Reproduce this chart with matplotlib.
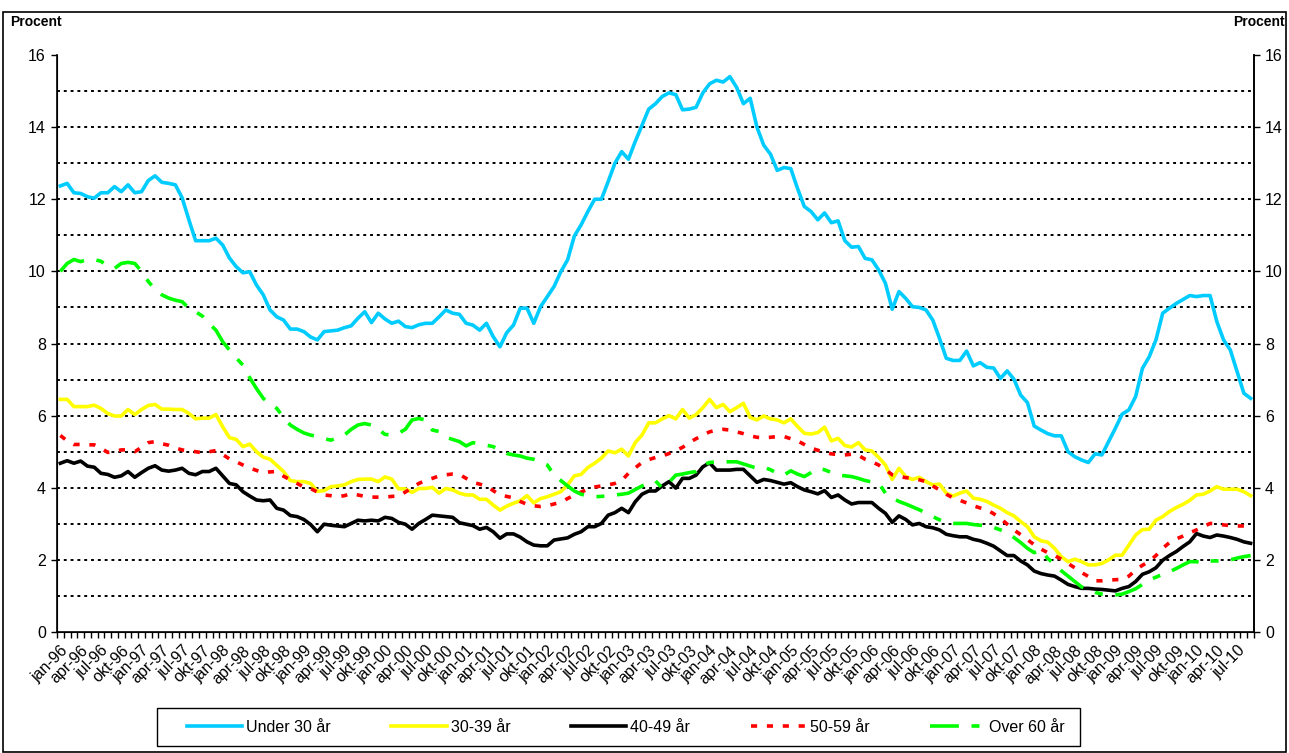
import numpy as np
import matplotlib
matplotlib.use("Agg")
import matplotlib.pyplot as plt
from matplotlib.ticker import FixedLocator, NullFormatter

plt.rcParams['font.family'] = ['Liberation Sans', 'DejaVu Sans']

# months jan-96 .. sep-10
mon = ['jan', 'feb', 'mar', 'apr', 'maj', 'jun', 'jul', 'aug', 'sep', 'okt', 'nov', 'dec']
months = ['%s-%02d' % (mon[i % 12], (96 + i // 12) % 100) for i in range(177)]

under30 = [12.37, 12.44, 12.18, 12.16, 12.07, 12.03, 12.18, 12.18, 12.35, 12.21,
           12.40, 12.18, 12.21, 12.52, 12.65, 12.47, 12.44, 12.40, 12.04, 11.43,
           10.85, 10.85, 10.85, 10.92, 10.73, 10.37, 10.13, 9.96, 9.99, 9.62,
           9.35, 8.93, 8.74, 8.65, 8.40, 8.40, 8.33, 8.18, 8.10, 8.33,
           8.35, 8.37, 8.44, 8.49, 8.70, 8.88, 8.58, 8.84, 8.68, 8.56,
           8.62, 8.47, 8.44, 8.52, 8.56, 8.56, 8.74, 8.93, 8.84, 8.81,
           8.56, 8.51, 8.37, 8.56, 8.19, 7.91, 8.30, 8.51, 8.98, 8.98,
           8.56, 9.02, 9.30, 9.58, 9.99, 10.32, 10.98, 11.29, 11.66, 12.00,
           12.00, 12.49, 13.00, 13.32, 13.11, 13.60, 14.05, 14.50, 14.65, 14.85,
           14.95, 14.90, 14.48, 14.50, 14.55, 14.95, 15.20, 15.30, 15.25, 15.40,
           15.10, 14.65, 14.80, 14.00, 13.50, 13.25, 12.80, 12.88, 12.85, 12.30,
           11.80, 11.66, 11.43, 11.62, 11.35, 11.40, 10.85, 10.67, 10.69, 10.36,
           10.32, 10.04, 9.67, 8.95, 9.44, 9.25, 9.02, 9.00, 8.93, 8.65,
           8.14, 7.59, 7.53, 7.53, 7.79, 7.38, 7.47, 7.34, 7.32, 7.03,
           7.24, 7.01, 6.57, 6.36, 5.71, 5.60, 5.50, 5.44, 5.44, 5.00,
           4.86, 4.77, 4.70, 4.94, 4.91, 5.28, 5.65, 6.04, 6.16, 6.53,
           7.31, 7.63, 8.10, 8.84, 8.98, 9.11, 9.22, 9.33, 9.30, 9.33,
           9.33, 8.61, 8.10, 7.82, 7.22, 6.62, 6.48]

age30_39 = [6.45, 6.45, 6.25, 6.25, 6.25, 6.29, 6.20, 6.06, 5.99, 5.99,
            6.17, 6.03, 6.17, 6.28, 6.31, 6.18, 6.18, 6.17, 6.17, 6.06,
            5.91, 5.93, 5.93, 6.03, 5.69, 5.39, 5.34, 5.14, 5.21, 5.00,
            4.85, 4.79, 4.62, 4.45, 4.20, 4.17, 4.17, 4.12, 3.90, 3.92,
            4.03, 4.05, 4.08, 4.17, 4.23, 4.24, 4.24, 4.17, 4.30, 4.24,
            3.97, 3.97, 3.87, 3.98, 3.98, 4.01, 3.85, 3.98, 3.94, 3.85,
            3.80, 3.80, 3.68, 3.68, 3.52, 3.38, 3.49, 3.57, 3.64, 3.78,
            3.58, 3.70, 3.75, 3.82, 3.89, 4.08, 4.33, 4.37, 4.56, 4.68,
            4.82, 5.02, 4.97, 5.07, 4.88, 5.25, 5.46, 5.80, 5.80, 5.91,
            6.00, 5.91, 6.17, 5.93, 6.03, 6.22, 6.45, 6.22, 6.31, 6.11,
            6.22, 6.34, 5.95, 5.88, 5.99, 5.91, 5.88, 5.80, 5.91, 5.70,
            5.51, 5.49, 5.53, 5.68, 5.30, 5.37, 5.17, 5.13, 5.25, 5.05,
            5.02, 4.84, 4.63, 4.23, 4.54, 4.31, 4.23, 4.29, 4.17, 4.08,
            4.10, 3.85, 3.77, 3.85, 3.91, 3.71, 3.68, 3.62, 3.52, 3.43,
            3.31, 3.22, 3.06, 2.92, 2.64, 2.53, 2.49, 2.32, 2.09, 1.95,
            2.02, 1.95, 1.86, 1.86, 1.90, 2.00, 2.13, 2.13, 2.41, 2.69,
            2.84, 2.85, 3.10, 3.20, 3.34, 3.45, 3.54, 3.65, 3.80, 3.82,
            3.91, 4.03, 3.96, 3.96, 3.96, 3.89, 3.78]

age40_49 = [4.68, 4.75, 4.68, 4.74, 4.60, 4.57, 4.40, 4.37, 4.29, 4.33,
            4.45, 4.29, 4.42, 4.54, 4.61, 4.49, 4.46, 4.49, 4.54, 4.40,
            4.36, 4.45, 4.45, 4.54, 4.33, 4.12, 4.08, 3.89, 3.77, 3.66,
            3.64, 3.66, 3.43, 3.38, 3.23, 3.20, 3.12, 2.98, 2.78, 2.99,
            2.96, 2.94, 2.92, 3.01, 3.10, 3.08, 3.10, 3.08, 3.18, 3.15,
            3.04, 2.99, 2.85, 3.01, 3.12, 3.24, 3.22, 3.20, 3.18, 3.03,
            2.99, 2.95, 2.85, 2.90, 2.78, 2.60, 2.72, 2.72, 2.63, 2.50,
            2.41, 2.39, 2.39, 2.55, 2.58, 2.61, 2.71, 2.78, 2.92, 2.92,
            3.01, 3.24, 3.31, 3.43, 3.31, 3.61, 3.82, 3.91, 3.91, 4.05,
            4.17, 3.99, 4.26, 4.26, 4.35, 4.58, 4.69, 4.49, 4.49, 4.49,
            4.51, 4.51, 4.33, 4.15, 4.23, 4.20, 4.15, 4.10, 4.14, 4.03,
            3.94, 3.89, 3.83, 3.92, 3.73, 3.80, 3.66, 3.55, 3.59, 3.59,
            3.59, 3.43, 3.29, 3.04, 3.22, 3.12, 2.97, 3.01, 2.92, 2.89,
            2.83, 2.71, 2.67, 2.64, 2.64, 2.57, 2.53, 2.46, 2.38, 2.25,
            2.12, 2.12, 1.97, 1.86, 1.69, 1.62, 1.58, 1.55, 1.44, 1.32,
            1.26, 1.21, 1.21, 1.19, 1.18, 1.16, 1.14, 1.21, 1.26, 1.40,
            1.60, 1.67, 1.78, 1.99, 2.12, 2.23, 2.37, 2.50, 2.73, 2.66,
            2.62, 2.69, 2.66, 2.62, 2.57, 2.50, 2.46]

age50_59 = [5.45, 5.30, 5.20, 5.20, 5.19, 5.19, 5.10, 4.98, 5.00, 5.05,
            5.05, 5.00, 5.12, 5.25, 5.28, 5.22, 5.18, 5.10, 5.05, 5.02,
            5.00, 4.97, 5.00, 5.03, 4.92, 4.80, 4.72, 4.63, 4.55, 4.48,
            4.42, 4.44, 4.45, 4.32, 4.22, 4.12, 4.02, 3.98, 3.88, 3.80,
            3.78, 3.75, 3.78, 3.84, 3.80, 3.76, 3.74, 3.74, 3.74, 3.76,
            3.77, 3.88, 4.00, 4.12, 4.20, 4.26, 4.33, 4.36, 4.38, 4.37,
            4.26, 4.15, 4.10, 4.05, 3.92, 3.80, 3.76, 3.72, 3.62, 3.54,
            3.50, 3.48, 3.50, 3.55, 3.60, 3.70, 3.80, 3.88, 3.96, 4.02,
            4.05, 4.08, 4.12, 4.20, 4.40, 4.55, 4.70, 4.78, 4.84, 4.88,
            4.95, 5.03, 5.12, 5.25, 5.36, 5.46, 5.55, 5.60, 5.62, 5.60,
            5.55, 5.50, 5.44, 5.40, 5.38, 5.40, 5.42, 5.42, 5.36, 5.30,
            5.20, 5.10, 5.04, 4.98, 4.94, 4.92, 4.91, 4.93, 4.90, 4.79,
            4.72, 4.63, 4.50, 4.36, 4.32, 4.28, 4.26, 4.22, 4.17, 4.05,
            3.94, 3.82, 3.72, 3.65, 3.58, 3.50, 3.44, 3.39, 3.28, 3.15,
            2.99, 2.83, 2.70, 2.56, 2.42, 2.30, 2.20, 2.12, 2.02, 1.90,
            1.78, 1.65, 1.54, 1.42, 1.42, 1.44, 1.45, 1.46, 1.55, 1.72,
            1.85, 1.96, 2.12, 2.32, 2.48, 2.58, 2.66, 2.75, 2.83, 2.92,
            3.01, 3.00, 2.97, 2.95, 2.94, 2.94, 2.94]

over60 = [10.00, 10.22, 10.33, 10.27, 10.33, 10.33, 10.28, 10.15, 10.08, 10.22,
          10.25, 10.22, 10.00, 9.72, 9.50, 9.35, 9.26, 9.20, 9.16, 8.98,
          8.88, 8.76, 8.55, 8.37, 8.05, 7.82, 7.60, 7.40, 7.05, 6.75,
          6.48, 6.32, 6.20, 5.95, 5.74, 5.62, 5.52, 5.46, 5.42, 5.36,
          5.32, 5.38, 5.46, 5.62, 5.74, 5.78, 5.74, 5.62, 5.48, 5.46,
          5.51, 5.62, 5.88, 5.92, 5.88, 5.60, 5.56, 5.40, 5.34, 5.28,
          5.16, 5.25, 5.22, 5.18, 5.14, 5.05, 4.95, 4.91, 4.88, 4.82,
          4.79, 4.72, 4.63, 4.35, 4.20, 4.05, 3.91, 3.82, 3.78, 3.75,
          3.76, 3.78, 3.80, 3.82, 3.85, 3.95, 4.05, 4.12, 4.19, 3.99,
          4.15, 4.35, 4.38, 4.42, 4.45, 4.63, 4.70, 4.72, 4.72, 4.72,
          4.72, 4.66, 4.60, 4.54, 4.57, 4.50, 4.40, 4.35, 4.47, 4.38,
          4.31, 4.42, 4.54, 4.50, 4.42, 4.36, 4.33, 4.31, 4.26, 4.20,
          4.16, 4.13, 3.85, 3.72, 3.62, 3.55, 3.47, 3.39, 3.30, 3.20,
          3.11, 3.05, 3.01, 3.01, 3.01, 2.98, 2.96, 2.95, 2.90, 2.83,
          2.76, 2.62, 2.48, 2.32, 2.20, 2.27, 2.04, 1.88, 1.70, 1.55,
          1.40, 1.25, 1.18, 1.10, 1.05, 1.02, 1.03, 1.05, 1.12, 1.20,
          1.32, 1.44, 1.52, 1.60, 1.67, 1.76, 1.86, 1.95, 1.95, 1.90,
          1.97, 1.97, 1.97, 2.00, 2.05, 2.09, 2.12]

labels = ['Under 30 år', '30-39 år', '40-49 år', '50-59 år', 'Over 60 år']

W, H = 1289, 753
fig = plt.figure(figsize=(W / 100, H / 100), dpi=100)
ax = fig.add_axes([57 / W, 1 - 632 / H, 1197 / W, 577 / H])

x = np.arange(len(months))
lw = 2.6
ax.plot(x, under30, color='#00CCFF', lw=lw, label=labels[0], solid_joinstyle='round')
ax.plot(x, age30_39, color='#FFFF00', lw=lw, label=labels[1], solid_joinstyle='round')
ax.plot(x, age40_49, color='black', lw=lw, label=labels[2], solid_joinstyle='round')
ax.plot(x, age50_59, color='#FF0000', lw=lw, label=labels[3],
        linestyle=(0, (1.7, 2.7)), dash_capstyle='butt')
ax.plot(x, over60, color='#00FF00', lw=lw, label=labels[4],
        linestyle=(0, (8, 3.5, 2.2, 3.5)), dash_capstyle='butt')

ax.set_xlim(-0.5, len(months) - 0.5)
ax.set_ylim(0, 16)

# grid lines every 1 percent, dotted
for v in range(1, 16):
    ax.axhline(v, color='black', lw=1.4, linestyle=(0, (1.5, 2.0)), zorder=0.5)

ax.set_yticks(np.arange(0, 17, 2))
ax.tick_params(axis='y', labelsize=11.5, length=4, width=1, direction='out', pad=4)

# x ticks at category borders, labels every third month
ax.xaxis.set_major_locator(FixedLocator(np.arange(-0.5, len(months), 1.0)))
ax.xaxis.set_major_formatter(NullFormatter())
ax.tick_params(axis='x', which='major', length=4, width=1, direction='out')
ax.set_xticks(x[::3], minor=True)
ax.set_xticklabels(months[::3], minor=True, rotation=45, ha='right',
                   rotation_mode='anchor', fontsize=11.5)
ax.tick_params(axis='x', which='minor', length=0, pad=8)

ax.spines['top'].set_visible(False)
for s in ['left', 'bottom', 'right']:
    ax.spines[s].set_linewidth(1.2)

ax2 = ax.twinx()
ax2.set_ylim(0, 16)
ax2.set_yticks(np.arange(0, 17, 2))
ax2.tick_params(axis='y', labelsize=11.5, length=4, width=1, direction='out', pad=4)
ax2.spines['top'].set_visible(False)
ax2.spines['right'].set_linewidth(1.2)

fig.text(10 / W, 1 - 22 / H, 'Procent', fontsize=10, fontweight='bold', va='center', ha='left')
fig.text(1285 / W, 1 - 22 / H, 'Procent', fontsize=10, fontweight='bold', va='center', ha='right')

# outer chart border
fig.add_artist(plt.Rectangle((3 / W, 1 / H), 1283 / W, 1 - 13 / H, transform=fig.transFigure,
                             fill=False, edgecolor='black', lw=1.2))

# legend box
fig.add_artist(plt.Rectangle((157 / W, 1 - 746 / H), 923 / W, 38 / H, transform=fig.transFigure,
                             fill=False, edgecolor='black', lw=1.0))
leg = fig.legend(*ax.get_legend_handles_labels(), loc='center left',
                 bbox_to_anchor=(187 / W, 1 - 727 / H),
                 ncol=5, fontsize=11.5, handlelength=3.45,
                 handletextpad=0.25, columnspacing=3.8,
                 borderaxespad=0, borderpad=0.0, frameon=False)

fig.savefig('out.png', dpi=100)
